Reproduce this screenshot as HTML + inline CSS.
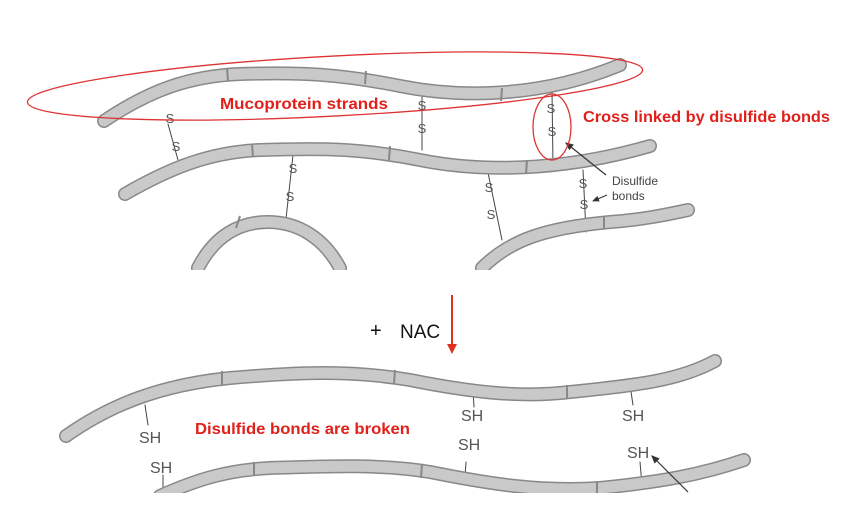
<!DOCTYPE html>
<html><head><style>
html,body{margin:0;padding:0;background:#fff;}
svg{display:block;}
text{font-family:"Liberation Sans",sans-serif;}
</style></head><body>
<svg width="850" height="510" viewBox="0 0 850 510" xmlns="http://www.w3.org/2000/svg">
<defs>
<marker id="ah" markerWidth="8" markerHeight="8" refX="6" refY="4" orient="auto"><path d="M0,1 L7,4 L0,7 z" fill="#333"/></marker>
<marker id="ra" markerWidth="6" markerHeight="6" refX="4" refY="3" orient="auto"><path d="M0,0.5 L5,3 L0,5.5 z" fill="#e0301e"/></marker>
</defs>
<g fill="none" stroke-linecap="round">
<g stroke="#444" stroke-width="1">
<line x1="168" y1="124" x2="178" y2="160"/>
<line x1="422" y1="88" x2="422" y2="150"/>
<line x1="552" y1="92" x2="553" y2="166"/>
<line x1="293" y1="155" x2="285" y2="228"/>
<line x1="487" y1="168" x2="502" y2="240"/>
<line x1="583" y1="170" x2="586" y2="232"/>
<line x1="145" y1="405" x2="148" y2="425"/>
<line x1="473" y1="390" x2="474" y2="407"/>
<line x1="630" y1="385" x2="633" y2="405"/>
<line x1="163" y1="475" x2="163" y2="495"/>
<line x1="466" y1="462" x2="465" y2="477"/>
<line x1="640" y1="462" x2="642" y2="485"/>
</g>
<g id="strands">
<path d="M104,121 C150,90 190,76 240,74 C300,72 340,74 400,86 C460,98 540,98 620,65"/>
<path d="M125,194 C170,168 210,152 260,150 C320,148 360,148 420,160 C480,172 560,172 650,146"/>
<path d="M198,268 C215,235 240,222 268,222 C300,222 325,240 340,268"/>
<path d="M482,268 C510,240 545,228 610,222 C640,220 665,215 688,210"/>
<path d="M66,436 C110,405 160,385 230,378 C300,372 350,370 410,380 C470,392 520,398 570,392 C640,385 680,380 715,361"/>
<path d="M160,496 C200,478 230,470 270,468 C330,466 380,464 430,472 C490,484 540,492 600,488 C660,482 700,475 744,460"/>
</g>
<use href="#strands" stroke="#888" stroke-width="14"/>
</g>
<g fill="none" stroke-linecap="round" stroke="#c9c9c9" stroke-width="11">
<path d="M104,121 C150,90 190,76 240,74 C300,72 340,74 400,86 C460,98 540,98 620,65"/>
<path d="M125,194 C170,168 210,152 260,150 C320,148 360,148 420,160 C480,172 560,172 650,146"/>
<path d="M198,268 C215,235 240,222 268,222 C300,222 325,240 340,268"/>
<path d="M482,268 C510,240 545,228 610,222 C640,220 665,215 688,210"/>
<path d="M66,436 C110,405 160,385 230,378 C300,372 350,370 410,380 C470,392 520,398 570,392 C640,385 680,380 715,361"/>
<path d="M160,496 C200,478 230,470 270,468 C330,466 380,464 430,472 C490,484 540,492 600,488 C660,482 700,475 744,460"/>
</g>
<g stroke="#888" stroke-width="2">
<line x1="227" y1="68" x2="228" y2="81"/><line x1="366" y1="71" x2="365" y2="84"/><line x1="502" y1="88" x2="501" y2="101"/>
<line x1="252" y1="144" x2="253" y2="157"/><line x1="390" y1="146" x2="389" y2="160"/><line x1="527" y1="160" x2="526" y2="174"/>
<line x1="240" y1="216" x2="236" y2="228"/><line x1="604" y1="216" x2="604" y2="229"/>
<line x1="222" y1="371" x2="222" y2="385"/><line x1="395" y1="370" x2="394" y2="384"/><line x1="567" y1="385" x2="567" y2="399"/>
<line x1="254" y1="462" x2="254" y2="476"/><line x1="422" y1="464" x2="421" y2="478"/><line x1="597" y1="481" x2="597" y2="495"/>
</g>
<rect x="0" y="270" width="850" height="14" fill="#fff"/>
<rect x="0" y="493" width="850" height="17" fill="#fff"/>
<g font-size="13" fill="#555" text-anchor="middle">
<text x="170" y="123">S</text><text x="176" y="151">S</text>
<text x="422" y="110">S</text><text x="422" y="133">S</text>
<text x="551" y="113">S</text><text x="552" y="136">S</text>
<text x="293" y="173">S</text><text x="290" y="201">S</text>
<text x="489" y="192">S</text><text x="491" y="219">S</text>
<text x="583" y="188">S</text><text x="584" y="209">S</text>
</g>
<g font-size="16" fill="#555">
<text x="139" y="443">SH</text><text x="150" y="473">SH</text>
<text x="461" y="421">SH</text><text x="458" y="450">SH</text>
<text x="622" y="421">SH</text><text x="627" y="458">SH</text>
</g>
<text x="612" y="185" font-size="12" fill="#444">Disulfide</text>
<text x="612" y="200" font-size="12" fill="#444">bonds</text>
<line x1="606" y1="175" x2="566" y2="143" stroke="#333" stroke-width="1.2" marker-end="url(#ah)"/>
<line x1="607" y1="195" x2="593" y2="201" stroke="#333" stroke-width="1" marker-end="url(#ah)"/>
<line x1="688" y1="492" x2="652" y2="456" stroke="#333" stroke-width="1.2" marker-end="url(#ah)"/>
<ellipse cx="335" cy="86" rx="308" ry="30" transform="rotate(-3 335 86)" fill="none" stroke="#d33" stroke-width="1.3"/>
<ellipse cx="552" cy="127" rx="19" ry="33" fill="none" stroke="#d33" stroke-width="1.3"/>
<g font-weight="bold" fill="#e0201a" font-size="16">
<text x="220" y="109" textLength="168" lengthAdjust="spacingAndGlyphs">Mucoprotein strands</text>
<text x="583" y="122" textLength="247" lengthAdjust="spacingAndGlyphs">Cross linked by disulfide bonds</text>
<text x="195" y="434" textLength="215" lengthAdjust="spacingAndGlyphs">Disulfide bonds are broken</text>
</g>
<text x="370" y="337" font-size="20" fill="#111">+</text>
<text x="400" y="338" font-size="19" fill="#111">NAC</text>
<line x1="452" y1="295" x2="452" y2="352" stroke="#e0301e" stroke-width="2" marker-end="url(#ra)"/>
</svg>
</body></html>
